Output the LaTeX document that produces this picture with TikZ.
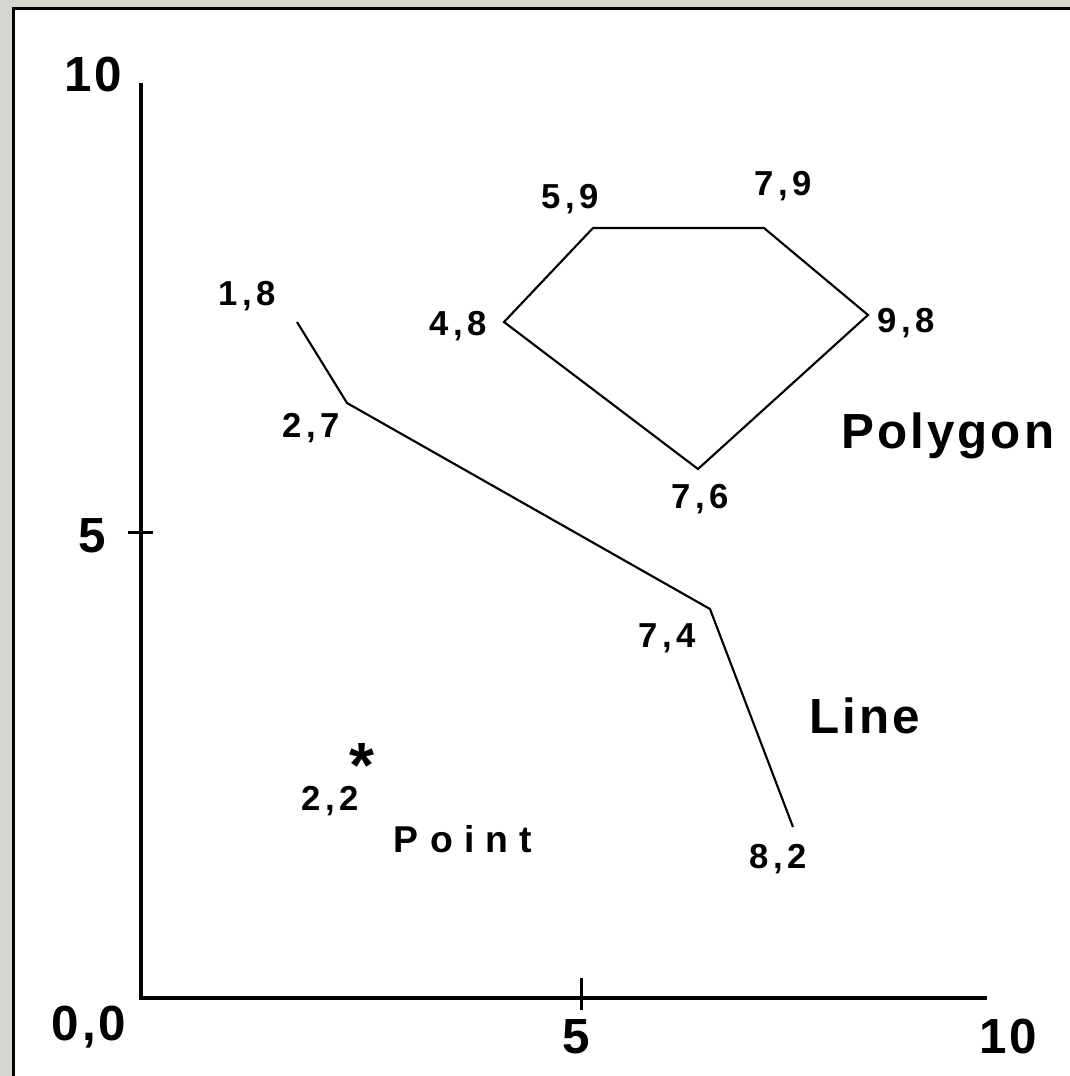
\documentclass[tikz,border=0pt]{standalone}
\usepackage{fontspec}
\setmainfont{Liberation Sans}
\definecolor{panelgray}{RGB}{212,214,208}
\begin{document}
\begin{tikzpicture}[x=0.75pt,y=-0.75pt,
  small/.style={font=\fontsize{26}{26}\selectfont\bfseries\addfontfeature{LetterSpace=14}, inner sep=0pt, anchor=base},
  big/.style={font=\fontsize{37}{37}\selectfont\bfseries\addfontfeature{LetterSpace=6}, inner sep=0pt, anchor=base},
  axisline/.style={line width=3pt, line join=miter},
  tick/.style={line width=2.25pt},
  thinline/.style={line width=1.6pt, line join=miter}]
\useasboundingbox (0,0) rectangle (1070,1076);
\clip (0,0) rectangle (1070,1076);
\fill[panelgray] (0,0) rectangle (1070,1076);
\filldraw[fill=white, draw=black, line width=2.25pt] (13.5,8.5) rectangle (1090,1090);

% axes
\coordinate (ytop) at (141,83);
\coordinate (origin) at (141,998);
\coordinate (xend) at (987,998);
\draw[axisline] (ytop) -- (origin) -- (xend);
\coordinate (yt1) at (128,532); \coordinate (yt2) at (153,532);
\coordinate (xt1) at (581,978); \coordinate (xt2) at (581,1010);
\draw[tick] (yt1) -- (yt2);
\draw[tick] (xt1) -- (xt2);

% axis labels
\node[big] (y10) at (93,91) {10};
\node[big] (y5) at (92,552) {5};
\node[big] (o00) at (89,1040) {0,0};
\node[big] (x5) at (576,1053) {5};
\node[big] (x10) at (1008,1053) {10};

% line
\coordinate (l1) at (297,322);
\coordinate (l2) at (347,403);
\coordinate (l3) at (710,609);
\coordinate (l4) at (793,827);
\draw[thinline] (l1) -- (l2) -- (l3) -- (l4);

% polygon
\coordinate (p1) at (504,322);
\coordinate (p2) at (593,228);
\coordinate (p3) at (764,228);
\coordinate (p4) at (868,315);
\coordinate (p5) at (698,469);
\draw[thinline] (p1) -- (p2) -- (p3) -- (p4) -- (p5) -- cycle;

% point labels
\node[small] (t18) at (247,305) {1,8};
\node[small] (t27) at (311,437) {2,7};
\node[small] (t59) at (570,208) {5,9};
\node[small] (t48) at (458,335) {4,8};
\node[small] (t79) at (783,195) {7,9};
\node[small] (t98) at (906,332) {9,8};
\node[small] (t76) at (700,508) {7,6};
\node[small] (t74) at (667,647) {7,4};
\node[small] (t82) at (778,868) {8,2};
\node[small] (t22) at (330,810) {2,2};
\node[font=\fontsize{48}{48}\selectfont\bfseries, inner sep=0pt, anchor=center] (star) at (362,764) {\raisebox{0pt}[0.72em][-0.3em]{*}};
\node[small, font=\fontsize{28}{28}\selectfont\bfseries\addfontfeature{LetterSpace=30}] (point) at (463,852) {Point};

% shape names
\node[big] (poly) at (948,448) {Polygon};
\node[big] (line) at (865,733) {Line};
\end{tikzpicture}
\end{document}
